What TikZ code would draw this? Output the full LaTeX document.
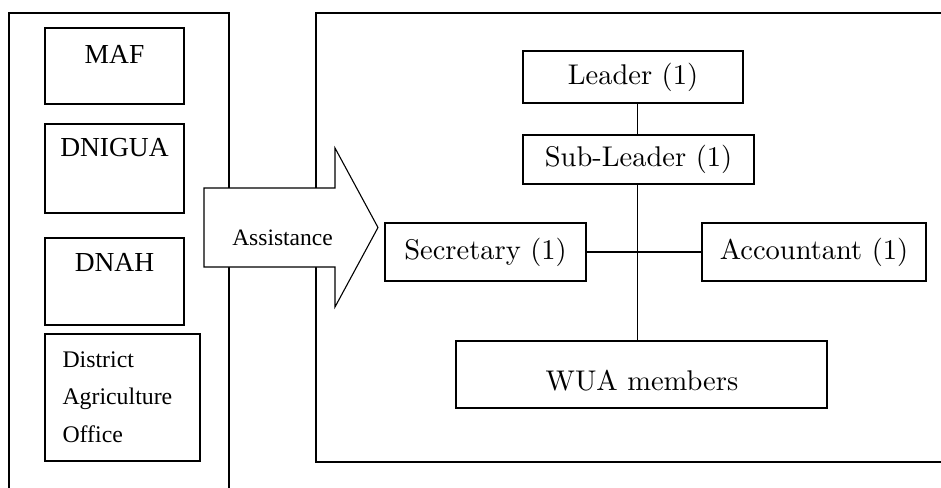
\documentclass[tikz,border=0pt]{standalone}
\usepackage{fontspec}
\newfontfamily\tnr{Liberation Serif}
\newfontfamily\lmten{lmroman10-regular}[Extension=.otf]
\begin{document}
\begin{tikzpicture}[x=1pt,y=-1pt,line width=1.1pt,
  box/.style={draw,rectangle,inner sep=0pt,line width=1.1pt,fill=white},
  rfont/.style={font=\lmten\fontsize{28.5}{34}\selectfont},
  lfont/.style={font=\tnr\fontsize{27.5}{33}\selectfont,inner sep=0pt},
  sfont/.style={font=\tnr\fontsize{23.8}{28}\selectfont,inner sep=0pt},
  lbox/.style={box,minimum width=139pt}]
\useasboundingbox (0,0) rectangle (941,487);
\clip (0,0) rectangle (941,487);
% outer frames
\draw (9,500) -- (9,13) -- (229,13) -- (229,500);
\draw (950,13) -- (316,13) -- (316,462) -- (950,462);
% left boxes
\node[lbox,minimum height=76pt] (maf) at (114.5,66) {};
\node[lfont,anchor=base] (maft) at ([yshift=-36pt]maf.north) {MAF};
\node[lbox,minimum height=89pt] (dni) at (114.5,168.5) {};
\node[lfont,anchor=base] (dnit) at ([yshift=-33pt]dni.north) {DNIGUA};
\node[lbox,minimum height=87pt] (dnah) at (114.5,281.5) {};
\node[lfont,anchor=base] (dnaht) at ([yshift=-34pt]dnah.north) {DNAH};
\node[box,minimum width=155pt,minimum height=127pt] (dao) at (122.5,397.5) {};
\node[sfont,anchor=base west] (dao1) at (62,367) {District};
\node[sfont,anchor=base west] (dao2) at (62,404.5) {Agriculture};
\node[sfont,anchor=base west] (dao3) at (62,442) {Office};
% arrow
\draw[fill=white] (204,188) -- (335,188) -- (335,148) -- (378,227.5) -- (335,307) -- (335,267) -- (204,267) -- cycle;
\node[font=\tnr\fontsize{23.5}{28}\selectfont,inner sep=0pt,anchor=base] (asst) at (282.5,245) {Assistance};
% right org chart
\node[box,rfont,minimum width=220pt,minimum height=52pt] (lead) at (633,77) {Leader (1)};
\node[box,rfont,minimum width=231pt,minimum height=49pt] (sub) at (638.5,159.5) {Sub-Leader (1)};
\node[box,rfont,minimum width=201pt,minimum height=58pt] (sec) at (485.5,252) {Secretary (1)};
\node[box,rfont,minimum width=224pt,minimum height=58pt] (acc) at (814,252) {Accountant (1)};
\node[box,rfont,minimum width=371pt,minimum height=67pt] (wua) at (641.5,374.5) {};
\node[rfont,anchor=base,inner sep=0pt] (wuat) at (642,390) {WUA members};
\coordinate (jx) at (637.5,253);
\draw (lead.south -| jx) -- (sub.north -| jx);
\draw (sub.south -| jx) -- (wua.north -| jx);
\draw (sec.east) -- (acc.west);
\end{tikzpicture}
\end{document}
